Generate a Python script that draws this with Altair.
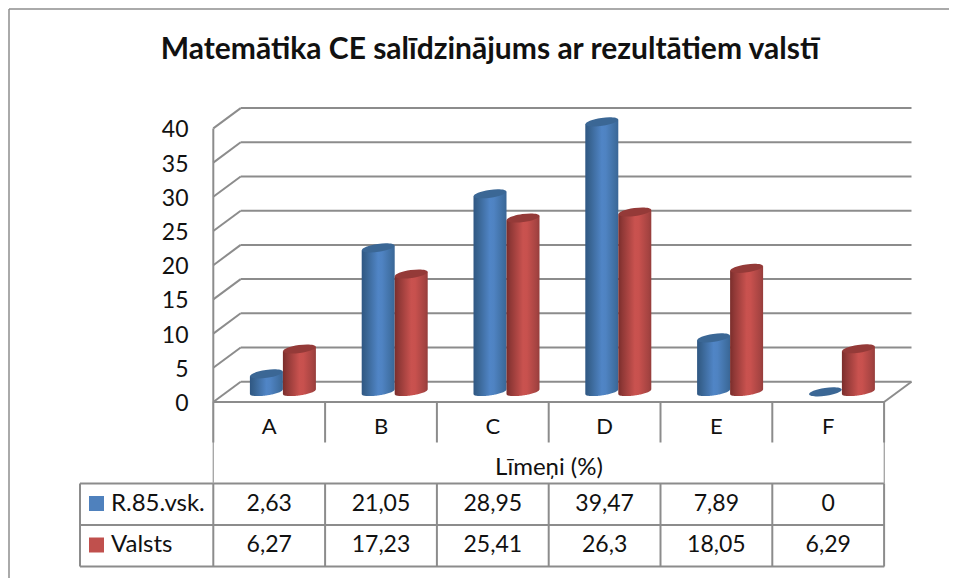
import numpy as np
import pandas as pd
import altair as alt

categories = ["A", "B", "C", "D", "E", "F"]
series_a_name = "R.85.vsk."
series_b_name = "Valsts"
series_a = [2.63, 21.05, 28.95, 39.47, 7.89, 0]
series_b = [6.27, 17.23, 25.41, 26.3, 18.05, 6.29]
labels_a = ["2,63", "21,05", "28,95", "39,47", "7,89", "0"]
labels_b = ["6,27", "17,23", "25,41", "26,3", "18,05", "6,29"]
ticks = [0, 5, 10, 15, 20, 25, 30, 35, 40]
title = "Matemātika CE salīdzinājums ar rezultātiem valstī"
axis_title = "Līmeņi (%)"

W, H = 941, 570
FONT = "Lato"
LINE = "#8c8c8c"
# scales: page px = 213.3 + 111.8*c ; page py = 402 - 6.84*v
PX_C, PX_V = 111.8, 6.84
xs = alt.Scale(domain=[(8 - 213.3) / PX_C, (8 + W - 213.3) / PX_C], range=[0, W], nice=False, zero=False)
ys = alt.Scale(domain=[(402 - 8 - H) / PX_V, (402 - 8) / PX_V], range=[H, 0], nice=False, zero=False)
X = lambda f: alt.X(f, type="quantitative", scale=xs, axis=None)
Y = lambda f: alt.Y(f, type="quantitative", scale=ys, axis=None)
DX, DY = 27.4 / PX_C, 20.3 / PX_V
NC = len(categories)

rules = []
for t in ticks:
    rules.append(dict(x1=0, y1=t, x2=DX, y2=t + DY))
    rules.append(dict(x1=DX, y1=t + DY, x2=NC + DX, y2=t + DY))
rules.append(dict(x1=0, y1=0, x2=0, y2=40))
rules.append(dict(x1=0, y1=0, x2=NC, y2=0))
rules.append(dict(x1=NC, y1=0, x2=NC + DX, y2=DY))
rule_layer = alt.Chart(pd.DataFrame(rules)).mark_rule(color=LINE, strokeWidth=2).encode(
    x=X("x1"), x2="x2:Q", y=Y("y1"), y2="y2:Q")

# table rules in pixels (plot coordinates)
def hline(px1, px2, py, w=2, c=LINE):
    return alt.Chart(pd.DataFrame({"a": [0]})).mark_rule(color=c, strokeWidth=w).encode(
        x=alt.value(px1 - 8), x2=alt.value(px2 - 8), y=alt.value(py - 8))
def vline(px, py1, py2, w=2, c=LINE):
    return alt.Chart(pd.DataFrame({"a": [0]})).mark_rule(color=c, strokeWidth=w).encode(
        x=alt.value(px - 8), y=alt.value(py1 - 8), y2=alt.value(py2 - 8))

edges = [213.3 + PX_C * i for i in range(NC + 1)]
table = [hline(80, 884.3, 483.5), hline(80, 884.3, 525), hline(80, 884.3, 566.5),
         vline(80, 483.5, 566.5), vline(213.3, 402, 483.5, 1.4, "#a8a8a8"), vline(884.3, 402, 483.5, 1.4, "#a8a8a8")]
for e in edges:
    table.append(vline(e, 483.5, 566.5))
    table.append(vline(e, 402, 442.5))
frame = [hline(9, 957, 9, 1.5, "#8e8e8e"), vline(9, 9, 578, 1.5, "#8e8e8e")]

HALF = 16.5 / PX_C
TILT = 2.3 / PX_V
MINOR = 3.6 / PX_V
def cyl_rows(vals, off):
    out = []
    for i, v in enumerate(vals):
        if v == 0:
            continue
        c0 = i + 0.5 + DX / 2 + off
        base = DY / 2
        for t in np.linspace(-1, 1, 41):
            out.append(dict(cat=categories[i], cx=c0 + t * HALF,
                            top=base + v + t * TILT,
                            bot=base + t * TILT - MINOR * float(np.sqrt(max(0, 1 - t * t)))))
    return pd.DataFrame(out)

def grad(stops):
    return alt.Gradient(gradient="linear", x1=0, x2=1, y1=0, y2=0,
                        stops=[alt.GradientStop(offset=o, color=c) for o, c in stops])
blue_grad = grad([(0, "#2f5783"), (0.12, "#37628f"), (0.5, "#5085c6"), (0.62, "#4f83c2"), (0.92, "#3e6d9f"), (1, "#3a6696")])
red_grad = grad([(0, "#7a2d2b"), (0.12, "#8f3836"), (0.5, "#c9524f"), (0.62, "#c8514e"), (0.92, "#a44341"), (1, "#953d3b")])
ELL = "M-1,0C-1,-0.13,-0.55,-0.24,0,-0.24C0.55,-0.24,1,-0.13,1,0C1,0.13,0.55,0.24,0,0.24C-0.55,0.24,-1,0.13,-1,0Z"

def cyl_layers(vals, off, g, top_color):
    body = alt.Chart(cyl_rows(vals, off)).mark_area(color=g, opacity=1).encode(
        x=X("cx"), y=Y("top"), y2="bot:Q", detail="cat:N")
    tops = pd.DataFrame({"cx": [i + 0.5 + DX / 2 + off for i in range(NC)],
                         "v": [v + DY / 2 for v in vals]})
    top = alt.Chart(tops).mark_point(shape=ELL, filled=True, size=33 * 33, angle=352, color=top_color, opacity=1).encode(
        x=X("cx"), y=Y("v"))
    return [body, top]

cyl = cyl_layers(series_a, -HALF, blue_grad, "#3b6795") + cyl_layers(series_b, HALF, red_grad, "#943a38")

def text(df, size, **kw):
    return alt.Chart(df).mark_text(font=FONT, fontSize=size, color="#111111", **kw)

tick_text = text(pd.DataFrame({"v": ticks, "s": [str(t) for t in ticks]}), 23, align="right", baseline="middle", dy=2).encode(
    x=alt.value(188.5 - 8), y=Y("v"), text="s:N")
centers = pd.DataFrame({"c": [i + 0.5 for i in range(NC)], "cat": categories, "a": labels_a, "b": labels_b})
cat_text = text(centers, 22, align="center", baseline="middle").encode(x=X("c"), y=alt.value(426.5 - 8), text="cat:N")
a_text = text(centers, 23, align="center", baseline="middle").encode(x=X("c"), y=alt.value(503.5 - 8), text="a:N")
b_text = text(centers, 23, align="center", baseline="middle").encode(x=X("c"), y=alt.value(545 - 8), text="b:N")
one = pd.DataFrame({"s": [axis_title]})
ax_text = text(one, 24, align="center", baseline="middle").encode(x=alt.value(549 - 8), y=alt.value(468 - 8), text="s:N")
title_text = alt.Chart(pd.DataFrame({"s": [title]})).mark_text(font=FONT, fontSize=30, fontWeight="bold", color="#111111",
    align="center", baseline="middle").encode(x=alt.value(490 - 8), y=alt.value(50 - 8), text="s:N")
name_a = text(pd.DataFrame({"s": [series_a_name]}), 24, align="left", baseline="middle").encode(x=alt.value(111 - 8), y=alt.value(503.5 - 8), text="s:N")
name_b = text(pd.DataFrame({"s": [series_b_name]}), 24, align="left", baseline="middle").encode(x=alt.value(111 - 8), y=alt.value(545 - 8), text="s:N")
sw_a = alt.Chart(pd.DataFrame({"a": [0]})).mark_square(size=225, color="#4f81bd", opacity=1).encode(x=alt.value(96.5 - 8), y=alt.value(503.5 - 8))
sw_b = alt.Chart(pd.DataFrame({"a": [0]})).mark_square(size=225, color="#c0504d", opacity=1).encode(x=alt.value(96.5 - 8), y=alt.value(545 - 8))

chart = alt.layer(*frame, rule_layer, *table, *cyl, tick_text, cat_text, a_text, b_text, ax_text,
                  title_text, name_a, name_b, sw_a, sw_b).properties(
    width=W, height=H, padding=0, autosize=alt.AutoSizeParams(type="none"), background="#ffffff"
).configure_view(stroke=None)

chart.save("out.html", embed_options={"renderer": "svg", "actions": False})
